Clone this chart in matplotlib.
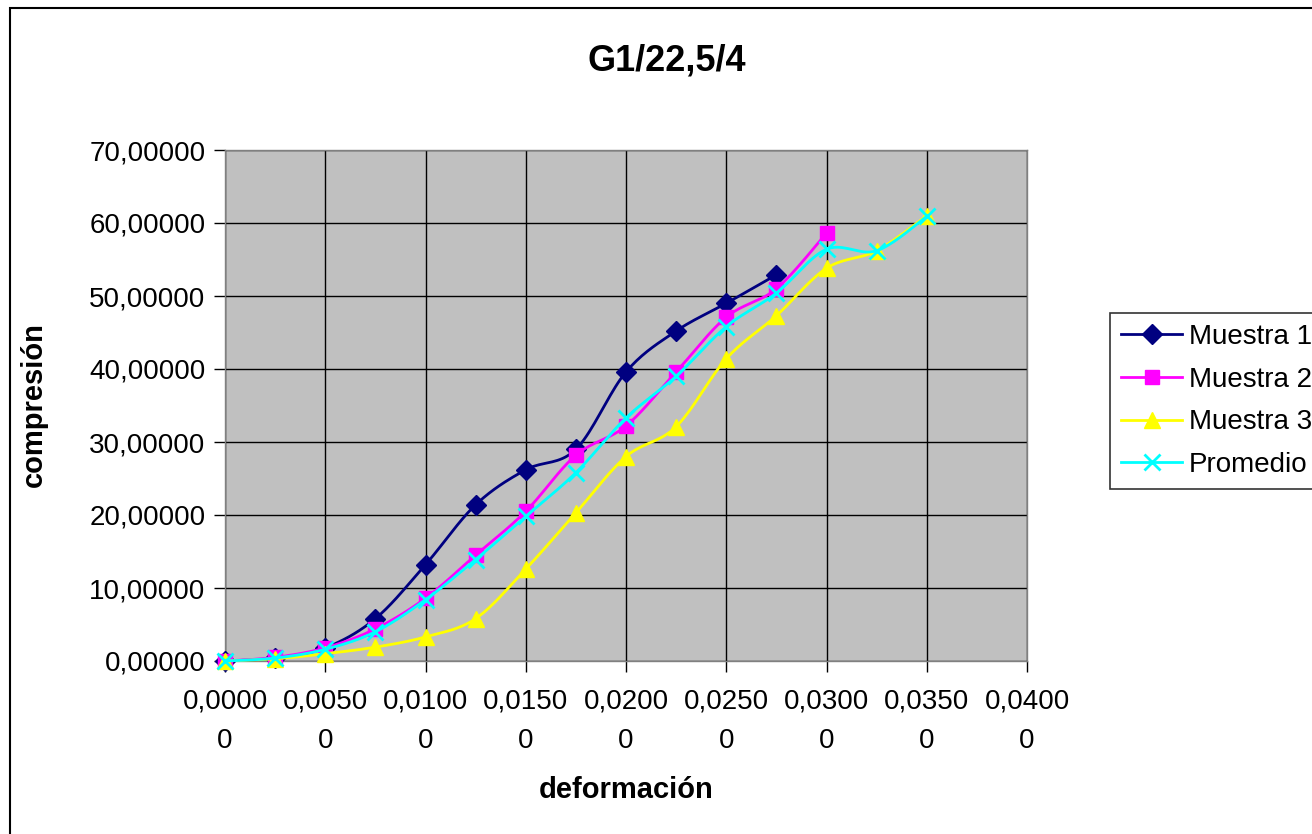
import numpy as np
import matplotlib
matplotlib.use("Agg")
import matplotlib.pyplot as plt
from matplotlib.patches import Rectangle
from matplotlib.lines import Line2D

plt.rcParams['font.family'] = ['Liberation Sans', 'DejaVu Sans']

deformacion = [0.0, 0.0025, 0.005, 0.0075, 0.010, 0.0125, 0.015, 0.0175,
               0.020, 0.0225, 0.025, 0.0275, 0.030, 0.0325, 0.035]
muestra1 = [0.0, 0.4, 1.8, 5.8, 13.2, 21.4, 26.2, 29.0, 39.6, 45.2, 49.0, 52.9]
muestra2 = [0.0, 0.5, 1.8, 4.4, 8.6, 14.5, 20.5, 28.2, 32.2, 39.6, 47.1, 51.0, 58.6]
muestra3 = [0.0, 0.3, 1.0, 1.9, 3.3, 5.8, 12.6, 20.3, 28.0, 32.1, 41.4, 47.3, 53.8, 56.2, 61.0]
promedio = [0.0, 0.4, 1.6, 4.0, 8.4, 13.9, 19.8, 25.8, 33.3, 39.0, 45.8, 50.4, 56.4, 56.2, 60.9]

x_ticks = [0.0, 0.005, 0.010, 0.015, 0.020, 0.025, 0.030, 0.035, 0.040]
y_ticks = [0, 10, 20, 30, 40, 50, 60, 70]

titulo = "G1/22,5/4"
series = [("Muestra 1", muestra1, "#000080", "D", 10),
          ("Muestra 2", muestra2, "#FF00FF", "s", 10),
          ("Muestra 3", muestra3, "#FFFF00", "^", 12),
          ("Promedio", promedio, "#00FFFF", "x", 11)]


def smooth(xs, ys, n=20):
    # Catmull-Rom style smoothing of the polyline (rendering like Excel's smoothed line)
    xs = np.asarray(xs, float); ys = np.asarray(ys, float)
    px, py = [xs[0]], [ys[0]]
    for i in range(len(xs) - 1):
        p0 = (xs[max(i - 1, 0)], ys[max(i - 1, 0)])
        p1 = (xs[i], ys[i]); p2 = (xs[i + 1], ys[i + 1])
        p3 = (xs[min(i + 2, len(xs) - 1)], ys[min(i + 2, len(ys) - 1)])
        c1 = (p1[0] + (p2[0] - p0[0]) / 6, p1[1] + (p2[1] - p0[1]) / 6)
        c2 = (p2[0] - (p3[0] - p1[0]) / 6, p2[1] - (p3[1] - p1[1]) / 6)
        t = np.linspace(0, 1, n)[1:]
        bx = (1 - t) ** 3 * p1[0] + 3 * (1 - t) ** 2 * t * c1[0] + 3 * (1 - t) * t ** 2 * c2[0] + t ** 3 * p2[0]
        by = (1 - t) ** 3 * p1[1] + 3 * (1 - t) ** 2 * t * c1[1] + 3 * (1 - t) * t ** 2 * c2[1] + t ** 3 * p2[1]
        px.extend(bx); py.extend(by)
    return px, py


fig = plt.figure(figsize=(13.12, 8.34), dpi=100)
fig.patch.set_facecolor('white')
fig.add_artist(Rectangle((10 / 1312, -0.2), 1.2, 0.2 + 1 - 8 / 834,
                         transform=fig.transFigure, fill=False,
                         edgecolor='black', linewidth=1.5))

ax = fig.add_axes([225 / 1312, 1 - 661 / 834, 802 / 1312, 511 / 834])
ax.set_facecolor('#C0C0C0')
ax.set_xlim(0, 0.040)
ax.set_ylim(0, 70)
ax.set_xticks(x_ticks)
ax.set_yticks(y_ticks)
xl = []
for v in x_ticks:
    s = f"{v:.5f}".replace('.', ',')
    xl.append(s[:-1] + "\n" + s[-1])
ax.set_xticklabels(xl, linespacing=1.65)
ax.set_yticklabels([f"{v:.5f}".replace('.', ',') for v in y_ticks])
ax.tick_params(axis='both', labelsize=20, direction='out', length=8, width=1, colors='black')
ax.tick_params(axis='x', pad=12)
ax.tick_params(axis='y', pad=6)
ax.grid(True, color='black', linewidth=1)
ax.set_axisbelow(True)
for sp in ax.spines.values():
    sp.set_color('#808080')
    sp.set_linewidth(1)

handles = []
for name, vals, col, mk, ms in series:
    xs = deformacion[:len(vals)]
    sx, sy = smooth(xs, vals)
    ax.plot(sx, sy, color=col, linewidth=2, clip_on=False, zorder=3)
    if mk == 'x':
        ax.plot(xs, vals, linestyle='none', marker=mk, markersize=ms, color=col,
                markeredgewidth=2, clip_on=False, zorder=3)
    else:
        ax.plot(xs, vals, linestyle='none', marker=mk, markersize=ms, color=col,
                markeredgecolor=col, clip_on=False, zorder=3)
    handles.append(Line2D([0], [0], color=col, linewidth=2, marker=mk, markersize=ms,
                          markeredgewidth=2 if mk == 'x' else 1, markeredgecolor=col, label=name))

fig.text(667 / 1312, 1 - 61 / 834, titulo, ha='center', va='center', fontsize=26, fontweight='bold')
fig.text(626 / 1312, 1 - 790 / 834, "deformación", ha='center', va='center', fontsize=21, fontweight='bold')
fig.text(34 / 1312, 1 - 405 / 834, "compresión", ha='center', va='center', fontsize=21,
         fontweight='bold', rotation=90)

leg = fig.legend(handles=handles, loc='upper left', bbox_to_anchor=(1110 / 1312, 1 - 313 / 834),
                 fontsize=20, frameon=True, fancybox=False, edgecolor='black',
                 handlelength=2.2, handletextpad=0.25, borderpad=0.4, labelspacing=0.6,
                 borderaxespad=0)
leg.get_frame().set_linewidth(1.2)

fig.savefig('out.png', dpi=100)
